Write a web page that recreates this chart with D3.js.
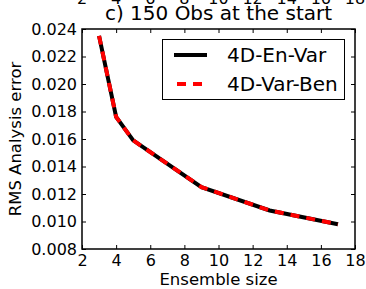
<!DOCTYPE html>
<html>
<head>
<meta charset="utf-8">
<script src="https://cdn.jsdelivr.net/npm/d3@7"></script>
<style>
  body { margin: 0; background: #fff; }
  svg { display: block; font-family: "DejaVu Sans", sans-serif; }
</style>
</head>
<body>
<div id="chart_div"></div>
<script>
// Chart data
const ensembleSizes = [3, 4, 5, 9, 13, 17];
const enVarError = [0.0235, 0.0176, 0.0159, 0.0125, 0.0108, 0.0098];
const varBenError = [0.0235, 0.0176, 0.0159, 0.0125, 0.0108, 0.0098];
const xTicks = [2, 4, 6, 8, 10, 12, 14, 16, 18];
const yTicks = [0.008, 0.010, 0.012, 0.014, 0.016, 0.018, 0.020, 0.022, 0.024];
const seriesNames = ["4D-En-Var", "4D-Var-Ben"];

const width = 366;
const height = 289;
const marginTop = 29;
const marginRight = 11;
const marginBottom = 40;
const marginLeft = 82;

const svg = d3.select("#chart_div").append("svg")
  .attr("width", width)
  .attr("height", height);

const x = d3.scaleLinear().domain([2, 18]).range([marginLeft, width - marginRight]);
const y = d3.scaleLinear().domain([0.008, 0.024]).range([height - marginBottom, marginTop]);

// Tick labels of the panel above, cut off at the top edge
svg.append("g")
  .selectAll("text")
  .data(xTicks)
  .join("text")
  .attr("x", d => x(d))
  .attr("y", 3.5)
  .attr("text-anchor", "middle")
  .attr("font-size", 16)
  .text(d => d);

// Title
svg.append("text")
  .attr("x", (x(2) + x(18)) / 2)
  .attr("y", 20)
  .attr("text-anchor", "middle")
  .attr("font-size", 20)
  .text("c) 150 Obs at the start");

// Axes, ticks pointing inward
const fmt = d3.format(".3f");
svg.append("g")
  .attr("transform", `translate(0,${height - marginBottom})`)
  .call(d3.axisBottom(x).tickValues(xTicks).tickSizeInner(-4).tickSizeOuter(0).tickPadding(6))
  .call(g => g.select(".domain").remove())
  .call(g => g.selectAll("text").attr("font-size", 16).attr("font-family", "DejaVu Sans").attr("fill", "#000"));

svg.append("g")
  .attr("transform", `translate(0,${marginTop})`)
  .call(d3.axisTop(x).tickValues(xTicks).tickSizeInner(-4).tickSizeOuter(0).tickFormat(""))
  .call(g => g.select(".domain").remove());

svg.append("g")
  .attr("transform", `translate(${marginLeft},0)`)
  .call(d3.axisLeft(y).tickValues(yTicks).tickSizeInner(-4).tickSizeOuter(0).tickPadding(5).tickFormat(fmt))
  .call(g => g.select(".domain").remove())
  .call(g => g.selectAll("text").attr("font-size", 16).attr("font-family", "DejaVu Sans").attr("fill", "#000"));

svg.append("g")
  .attr("transform", `translate(${width - marginRight},0)`)
  .call(d3.axisRight(y).tickValues(yTicks).tickSizeInner(-4).tickSizeOuter(0).tickFormat(""))
  .call(g => g.select(".domain").remove());

svg.selectAll(".tick line").attr("stroke", "#000");

// Axis labels
svg.append("text")
  .attr("x", (x(2) + x(18)) / 2)
  .attr("y", 285)
  .attr("text-anchor", "middle")
  .attr("font-size", 16.5)
  .text("Ensemble size");

svg.append("text")
  .attr("transform", `translate(21,${(y(0.008) + y(0.024)) / 2}) rotate(-90)`)
  .attr("text-anchor", "middle")
  .attr("font-size", 16.5)
  .text("RMS Analysis error");

// Lines
const line = d3.line()
  .x((d, i) => x(ensembleSizes[i]))
  .y(d => y(d));

svg.append("path")
  .datum(enVarError)
  .attr("fill", "none")
  .attr("stroke", "#000")
  .attr("stroke-width", 4)
  .attr("d", line);

svg.append("path")
  .datum(varBenError)
  .attr("fill", "none")
  .attr("stroke", "#ff0000")
  .attr("stroke-width", 4)
  .attr("stroke-dasharray", "9,7")
  .attr("d", line);

// Frame
svg.append("rect")
  .attr("x", marginLeft)
  .attr("y", marginTop)
  .attr("width", width - marginLeft - marginRight)
  .attr("height", height - marginTop - marginBottom)
  .attr("fill", "none")
  .attr("stroke", "#000")
  .attr("stroke-width", 1.5);

// Legend
const legend = svg.append("g");
legend.append("rect")
  .attr("x", 162.5)
  .attr("y", 39.5)
  .attr("width", 182)
  .attr("height", 60)
  .attr("fill", "#fff")
  .attr("stroke", "#000")
  .attr("stroke-width", 1);

const legendStyles = [
  { stroke: "#000", dash: null },
  { stroke: "#ff0000", dash: "9,7" }
];
seriesNames.forEach((name, i) => {
  const ly = 55 + i * 29;
  legend.append("line")
    .attr("x1", 174).attr("x2", 207)
    .attr("y1", ly).attr("y2", ly)
    .attr("stroke", legendStyles[i].stroke)
    .attr("stroke-width", 4)
    .attr("stroke-dasharray", legendStyles[i].dash)
    .attr("stroke-dashoffset", legendStyles[i].dash ? -3 : null);
  legend.append("text")
    .attr("x", 227)
    .attr("y", ly + 7)
    .attr("font-size", 20)
    .text(name);
});
</script>
</body>
</html>
